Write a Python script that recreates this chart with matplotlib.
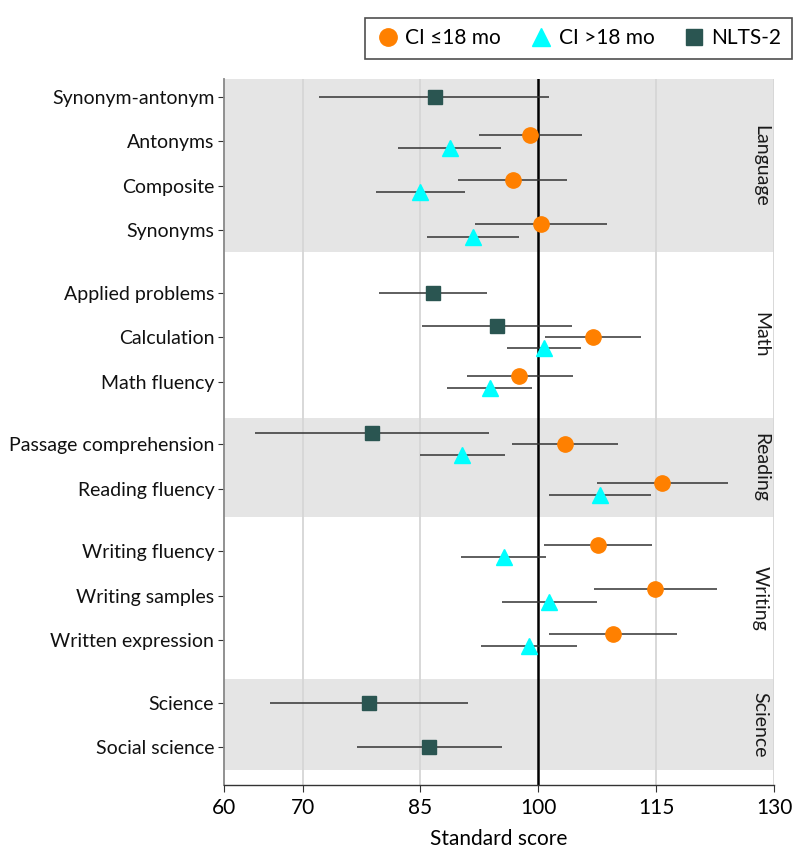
import numpy as np
import matplotlib
matplotlib.use("Agg")
import matplotlib.pyplot as plt
from matplotlib.lines import Line2D

plt.rcParams["font.family"] = ["Lato", "DejaVu Sans"]

# ---- data ----
domains = ["Language", "Math", "Reading", "Writing", "Science"]
tests = [
    ["Synonym-antonym", "Antonyms", "Composite", "Synonyms"],
    ["Applied problems", "Calculation", "Math fluency"],
    ["Passage comprehension", "Reading fluency"],
    ["Writing fluency", "Writing samples", "Written expression"],
    ["Science", "Social science"],
]
nan = np.nan
# flattened in the order of tests
nlts_est = [86.8, nan, nan, nan, 86.6, 94.7, nan, 78.8, nan, nan, nan, nan, 78.4, 86.1]
nlts_lo  = [72.1, nan, nan, nan, 79.7, 85.2, nan, 64.0, nan, nan, nan, nan, 65.8, 76.9]
nlts_hi  = [101.4, nan, nan, nan, 93.5, 104.3, nan, 93.7, nan, nan, nan, nan, 91.1, 95.4]

early_est = [nan, 98.9, 96.8, 100.3, nan, 106.9, 97.6, 103.4, 115.8, 107.6, 114.9, 109.5, nan, nan]
early_lo  = [nan, 92.4, 89.8, 91.9, nan, 100.8, 90.9, 96.7, 107.5, 100.7, 107.1, 101.4, nan, nan]
early_hi  = [nan, 105.5, 103.7, 108.7, nan, 113.1, 104.4, 110.1, 124.1, 114.5, 122.8, 117.6, nan, nan]

late_est = [nan, 88.7, 85.0, 91.7, nan, 100.7, 93.8, 90.3, 107.8, 95.6, 101.4, 98.8, nan, nan]
late_lo  = [nan, 82.2, 79.4, 85.8, nan, 96.0, 88.4, 85.0, 101.3, 90.1, 95.4, 92.7, nan, nan]
late_hi  = [nan, 95.3, 90.7, 97.6, nan, 105.4, 99.2, 95.7, 114.3, 101.0, 107.5, 104.9, nan, nan]

series = [
    ("NLTS-2", nlts_est, nlts_lo, nlts_hi, "s", "#2a5551", 10.0),
    ("CI ≤18 mo", early_est, early_lo, early_hi, "o", "#ff8000", 11.0),
    ("CI >18 mo", late_est, late_lo, late_hi, "^", "#00ffff", 12.0),
]

xticks = [60, 70, 85, 100, 115, 130]

# ---- layout ----
W, H = 794, 867
fig = plt.figure(figsize=(W / 100, H / 100), dpi=100)
ax = fig.add_axes([224 / W, 1 - 785 / H, (774 - 224) / W, (785 - 79) / H])

first_pad, within, between = 0.4, 1.0, 1.4
ypos = []
cur = first_pad
for g in tests:
    for j in range(len(g)):
        ypos.append(cur)
        cur += within
    cur += between - within
band_edges = [0.0, 3.89, 7.6, 9.84, 13.48, 15.51]
ymax = 15.85

labels = [t for g in tests for t in g]
ypos = np.array(ypos)

for i in range(len(domains)):
    if i % 2 == 0:
        ax.axhspan(band_edges[i], band_edges[i + 1], color="#e5e5e5", lw=0, zorder=0)
    yc = (band_edges[i] + band_edges[i + 1]) / 2
    ax.text(0.975, yc, domains[i], transform=ax.get_yaxis_transform(),
            rotation=-90, ha="center", va="center", fontsize=14, color="#1a1a1a")

for gx in [70, 85, 115, 130]:
    ax.axvline(gx, color="#d6d6d6", lw=1.3, zorder=1)
ax.axvline(100, color="black", lw=1.8, zorder=2)

present = np.array([[not np.isnan(s[1][k]) for s in series] for k in range(len(labels))])
for si, (name, est, lo, hi, mk, col, ms) in enumerate(series):
    est = np.array(est); lo = np.array(lo); hi = np.array(hi)
    for k in range(len(labels)):
        if np.isnan(est[k]):
            continue
        idx = list(np.where(present[k])[0])
        n = len(idx)
        pos = idx.index(si)
        step = 0.25 if n == 3 else 0.28
        off = (pos - (n - 1) / 2) * step
        y = ypos[k] + off
        ax.plot([lo[k], hi[k]], [y, y], color="#333333", lw=1.1, zorder=3,
                solid_capstyle="butt")
        ax.plot([est[k]], [y], marker=mk, ms=ms, color=col, mec=col, lw=0, zorder=4)

ax.set_xlim(60, 130)
ax.set_ylim(ymax, 0)
ax.set_xticks(xticks)
ax.set_xticklabels([str(v) for v in xticks], fontsize=15)
ax.set_yticks(ypos)
ax.set_yticklabels(labels, fontsize=14, color="#111111")
ax.tick_params(axis="y", length=4, color="#333333", pad=3)
ax.tick_params(axis="x", length=5, color="#333333", pad=4)
ax.set_xlabel("Standard score", fontsize=15, labelpad=8)

for s in ["top", "right"]:
    ax.spines[s].set_visible(False)
ax.spines["left"].set_color("#888888")
ax.spines["left"].set_linewidth(1.3)
ax.spines["bottom"].set_color("#333333")
ax.spines["bottom"].set_linewidth(1.0)

order = [1, 2, 0]
handles = [Line2D([], [], marker=series[i][4], ms=series[i][6] + 1.5, color=series[i][5], lw=0) for i in order]
leg_labels = [series[i][0] for i in order]
leg = fig.legend(handles, leg_labels, loc="upper right", bbox_to_anchor=(792 / W, 1 - 18 / H),
                 borderaxespad=0, ncol=3, frameon=True, fontsize=15, handletextpad=0.25,
                 columnspacing=1.3, borderpad=0.5, handlelength=1.2, fancybox=False,
                 edgecolor="#222222")
leg.get_frame().set_linewidth(1.2)

fig.savefig("out.png", dpi=100)
